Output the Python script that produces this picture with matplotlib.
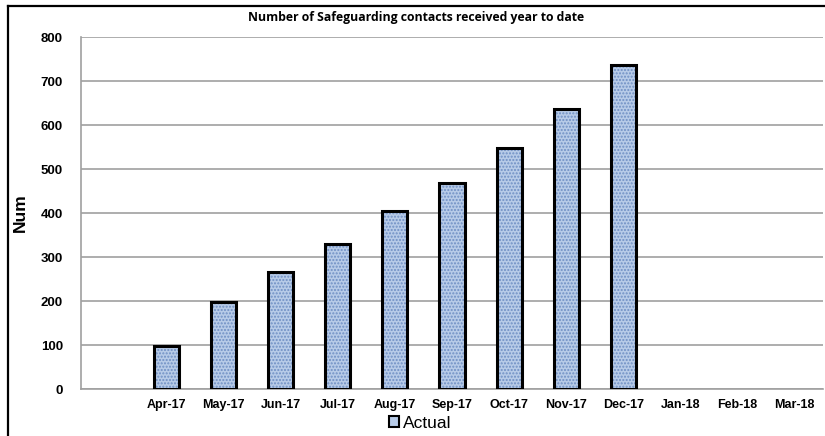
import numpy as np
import matplotlib.pyplot as plt
from matplotlib.lines import Line2D
from matplotlib.patches import Patch

# contacts received, cumulative year to date
meses = ["", "Apr-17", "May-17", "Jun-17", "Jul-17", "Aug-17", "Sep-17",
         "Oct-17", "Nov-17", "Dec-17", "Jan-18", "Feb-18", "Mar-18"]
valores = [np.nan, 98, 197, 266, 329, 405, 468, 548, 636, 736,
           np.nan, np.nan, np.nan]
yticks = [0, 100, 200, 300, 400, 500, 600, 700, 800]

plt.rcParams['font.family'] = ['Liberation Sans', 'DejaVu Sans']

fig = plt.figure(figsize=(8.25, 4.36), dpi=100)
W, H = 825, 436
ax = fig.add_axes([81 / W, (H - 389) / H, (823 - 81) / W, (389 - 37) / H])

x = np.arange(len(meses))
# preenchimento pontilhado + contorno preto
ax.bar(x, valores, width=0.44, color='#b7cbe8', edgecolor='#6f8fc4',
       hatch='.....', linewidth=0, zorder=2)
ax.bar(x, valores, width=0.44, fill=False, edgecolor='black',
       linewidth=2.2, zorder=3)

ax.set_xlim(-0.5, len(meses) - 0.5)
ax.set_ylim(0, 800)
ax.set_yticks(yticks)
ax.set_yticklabels([str(v) for v in yticks], fontsize=9.5, fontweight='bold')
ax.set_xticks(x)
ax.set_xticklabels(meses, fontsize=9, fontweight='bold')
ax.tick_params(length=0, pad=13)
ax.tick_params(axis='x', pad=7)
ax.yaxis.grid(True, color='#a0a0a0', linewidth=1.2, zorder=0)
ax.set_axisbelow(True)
for lado in ['top', 'right']:
    ax.spines[lado].set_visible(False)
for lado in ['left', 'bottom']:
    ax.spines[lado].set_color('#a0a0a0')
    ax.spines[lado].set_linewidth(1.2)

ax.set_ylabel("Num", fontsize=12.5, fontweight='bold', labelpad=9)

fig.text(416 / W, 1 - 18 / H, "Number of Safeguarding contacts received year to date",
         ha='center', va='center', fontsize=8.8, fontweight='bold',
         family=['Open Sans', 'DejaVu Sans'])

leg = fig.legend(handles=[Patch(facecolor='#b7cbe8', edgecolor='black',
                                linewidth=1.5, label='Actual')],
                 loc='center', bbox_to_anchor=(420 / W, 1 - 423 / H),
                 frameon=False, fontsize=12.5, handlelength=0.6,
                 handleheight=0.6, handletextpad=0.2)

# moldura do grafico
fig.add_artist(Line2D([8 / W, 8 / W], [0, 1 - 6 / H], color='black',
                      linewidth=1.6, transform=fig.transFigure))
fig.add_artist(Line2D([8 / W, 1], [1 - 6 / H, 1 - 6 / H], color='black',
                      linewidth=1.6, transform=fig.transFigure))

fig.savefig("out.png", dpi=100)
